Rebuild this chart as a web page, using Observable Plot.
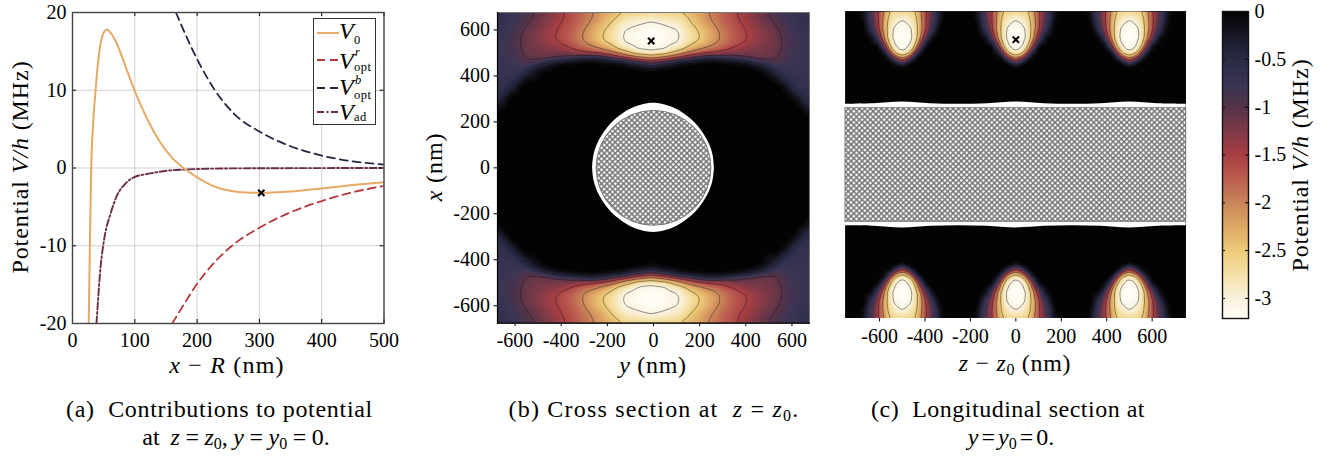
<!DOCTYPE html>
<html><head><meta charset="utf-8">
<script src="https://cdn.jsdelivr.net/npm/d3@7"></script>
<script src="https://cdn.jsdelivr.net/npm/@observablehq/plot@0.6"></script>
<style>
html,body{margin:0;padding:0;background:#fff}
#fig{position:relative;width:1335px;height:457px;overflow:hidden;font-family:"Liberation Serif",serif;color:#000}
.t{position:absolute;white-space:nowrap;font-size:24px;line-height:22px;letter-spacing:.7px}
.c{transform:translateX(-50%)}
.r{transform:translate(-50%,-50%) rotate(-90deg);letter-spacing:.9px}
i{font-style:italic}
sub{font-size:16px;line-height:0;vertical-align:-4px}
#leg{position:absolute;left:313px;top:18px;width:63px;height:107px;background:#fff;border:1px solid #333;box-sizing:border-box}
#leg svg{position:absolute;left:3px;width:22px;height:6px;overflow:visible}
#leg .e{position:absolute;left:25px;font-size:24px;line-height:20px;white-space:nowrap}
#leg .s{position:absolute;font-size:12.5px;line-height:12px;letter-spacing:.5px;white-space:nowrap}
</style></head><body>
<svg width="0" height="0" style="position:absolute"><defs>
<pattern id="hatch" patternUnits="userSpaceOnUse" width="3.9" height="3.9" patternTransform="rotate(45)">
<rect width="3.9" height="3.9" fill="#fff"/><path d="M0 0H3.9M0 0V3.9" stroke="#737373" stroke-width="3"/></pattern></defs></svg>
<div id="fig"></div>
<script>
// Panel (a): potential contributions
const v0X = [26,27.5,30,33,37,42,48,55,62,70,80,90,100,120,140,160,180,200,220,240,260,280,303,330,360,400,450,500];
const v0Y = [-20,-12,0,5.5,10,14.3,17,17.8,17.3,16.2,14.2,12,9.9,6.3,3.4,1.3,-0.1,-1.2,-2.1,-2.7,-3.02,-3.16,-3.2,-3.12,-2.95,-2.65,-2.2,-1.82];
const vrX = [160,180,200,225,253,302,350,400,446,500];
const vrY = [-20,-17.4,-14.9,-12.4,-10.2,-7.6,-5.7,-4.25,-3.2,-2.3];
const vbX = [166,200,227,259,302,350,400,446,500];
const vbY = [20,14,10.2,7,4.6,2.8,1.6,0.9,0.45];
const vaX = [38.5,45,51.4,61,71.7,85,98.5,125,152,179,259,500];
const vaY = [-20,-12.8,-8.9,-5.9,-3.5,-2,-1.2,-0.7,-0.35,-0.2,-0.05,0];
const minX = [303], minY = [-3.2];
const xTicksA = [0,100,200,300,400,500], yTicksA = [-20,-10,0,10,20];
const sectionTicks = [-600,-400,-200,0,200,400,600];
const barTicks = [0,-0.5,-1,-1.5,-2,-2.5,-3];
const contourLevels = [-3,-2.5,-2,-1.5,-1,-0.5];
const wireR = 250;

// Colour map stops from the colour bar
const cmapV = [-3.21,-3,-2.75,-2.5,-2.25,-2,-1.75,-1.5,-1.25,-1,-0.75,-0.5,-0.25,-0.05,0];
const cmapC = ["#fffdf7","#faf2dd","#f5e0a8","#edcb78","#dfa866","#c98559","#bb5e50","#a83f44","#7f3a48","#553349","#383554","#2b2b46","#191926","#08080b","#000000"];

// Panel (b): |x| rows (nm), offsets from the peak column (nm), values (MHz)
const rowsB = [676,640,600,560,530,510,495,480,470,460,450,440,425,400,380,360,340,320,300,280,260,240,200];
const colsB = [0,60,120,180,240,300,360,420,480,540,570,600,630,660,690];
const gridB = [
[-2.6,-2.53,-2.5,-2.28,-2.03,-1.78,-1.55,-1.3,-1.08,-.88,-.78,-.7,-.63,-.58,-.55],
[-3,-2.92,-2.82,-2.42,-2.1,-1.82,-1.58,-1.38,-1.15,-.95,-.85,-.75,-.68,-.62,-.58],
[-3.17,-3.08,-3,-2.62,-2.3,-1.95,-1.66,-1.46,-1.25,-1.05,-.95,-.82,-.74,-.68,-.64],
[-3.21,-3.13,-3.03,-2.68,-2.35,-2,-1.72,-1.49,-1.28,-1.12,-.98,-.85,-.78,-.72,-.68],
[-3.14,-3.07,-2.93,-2.4,-2.1,-1.85,-1.55,-1.32,-1.22,-1.1,-.98,-.85,-.79,-.73,-.7],
[-3.05,-3,-2.48,-2.05,-1.75,-1.55,-1.3,-1.2,-1.17,-1.08,-.96,-.84,-.79,-.73,-.72],
[-2.75,-2.5,-2.1,-1.6,-1.35,-1.25,-1.12,-1.14,-1.14,-1.06,-.95,-.82,-.78,-.73,-.72],
[-2.15,-1.9,-1.45,-1,-.57,-.71,-.95,-1.1,-1.12,-1.05,-.9,-.8,-.76,-.72,-.72],
[-1.65,-1.4,-.8,-.38,-.02,-.15,-.38,-.65,-1.03,-1,-.85,-.78,-.75,-.72,-.72],
[-1.2,-.85,-.18,-.02,0,0,-.03,-.3,-.75,-.92,-.82,-.76,-.75,-.72,-.72],
[-.7,-.27,-.01,0,0,0,0,-.05,-.46,-.82,-.78,-.74,-.74,-.72,-.72],
[-.25,-.02,0,0,0,0,0,0,-.25,-.72,-.75,-.72,-.73,-.71,-.71],
[-.02,0,0,0,0,0,0,0,-.03,-.52,-.7,-.68,-.7,-.7,-.7],
[0,0,0,0,0,0,0,0,0,-.24,-.55,-.62,-.67,-.67,-.68],
[0,0,0,0,0,0,0,0,0,-.02,-.35,-.55,-.63,-.65,-.66],
[0,0,0,0,0,0,0,0,0,0,-.04,-.45,-.6,-.62,-.64],
[0,0,0,0,0,0,0,0,0,0,0,-.2,-.54,-.58,-.6],
[0,0,0,0,0,0,0,0,0,0,0,0,-.38,-.55,-.58],
[0,0,0,0,0,0,0,0,0,0,0,0,-.05,-.47,-.57],
[0,0,0,0,0,0,0,0,0,0,0,0,0,-.3,-.56],
[0,0,0,0,0,0,0,0,0,0,0,0,0,-.03,-.4],
[0,0,0,0,0,0,0,0,0,0,0,0,0,0,-.2],
[0,0,0,0,0,0,0,0,0,0,0,0,0,0,0]];

// Panel (c): one lobe, |x| rows, offsets from lobe centre, values
const rowsC = [676,640,600,560,530,510,495,480,465,455,445,435,425,300,0];
const colsC = [0,15,30,45,60,75,90,105,120,135,150,165,180,250];
const gridC = [
[-2.6,-2.59,-2.58,-2.55,-2.46,-2.15,-1.83,-1.5,-1.2,-.9,-.62,-.3,-.03,0],
[-3,-2.95,-2.88,-2.75,-2.58,-2.28,-1.9,-1.5,-1.18,-.83,-.55,-.15,0,0],
[-3.17,-3.14,-3.08,-2.97,-2.65,-2.33,-1.93,-1.44,-1,-.65,-.25,0,0,0],
[-3.21,-3.18,-3.12,-3,-2.66,-2.23,-1.6,-.96,-.4,-.05,0,0,0,0],
[-3.14,-3.11,-3.05,-2.8,-2.4,-1.65,-.78,-.15,0,0,0,0,0,0],
[-3.07,-3.04,-2.85,-2.54,-1.88,-.94,-.2,0,0,0,0,0,0,0],
[-2.9,-2.75,-2.57,-2,-1.13,-.3,-.02,0,0,0,0,0,0,0],
[-2.42,-2.22,-2,-1.2,-.4,-.03,0,0,0,0,0,0,0,0],
[-1.75,-1.5,-1,-.35,-.03,0,0,0,0,0,0,0,0,0],
[-1.15,-.9,-.45,-.05,0,0,0,0,0,0,0,0,0,0],
[-.6,-.3,-.03,0,0,0,0,0,0,0,0,0,0,0],
[-.08,0,0,0,0,0,0,0,0,0,0,0,0,0],
[0,0,0,0,0,0,0,0,0,0,0,0,0,0],
[0,0,0,0,0,0,0,0,0,0,0,0,0,0],
[0,0,0,0,0,0,0,0,0,0,0,0,0,0]];
const lobeCentres = [-500,0,500];

// Clear zone round the fibre
const haloBY = [-264,-258,-240,-200,-150,-100,-50,0,50,100,150,200,240,258,264];
const haloBX = [0,55,108,172,222,255,274,281,274,255,222,172,108,55,0];
const haloCZ = [-750,-625,-500,-375,-250,-125,0,125,250,375,500,625,750];
const haloCX = [268,270,277,270,267,270,277,270,267,270,277,270,268];

const pairs = (xs, ys) => xs.map((x, i) => ({x, y: ys[i]}));
const grid4 = (rows, cols, grid, centres, peakShift = 0) => {
  const out = [];
  rows.forEach((r, i) => cols.forEach((c, j) => centres.forEach(m => {
    for (const sv of [1, -1]) for (const sh of [1, -1])
      out.push({h: m + peakShift + sh * c, v: sv * r, val: grid[i][j]});
  })));
  return out;
};
const pointsB = grid4(rowsB, colsB, gridB, [0], -10);
const pointsC = grid4(rowsC, colsC, gridC, lobeCentres);
const fine = d3.range(-3.2, 0.001, 0.05).map(d => +d.toFixed(2)).concat([-0.02]);
const colorOpt = {type: "linear", domain: cmapV, range: cmapC, clamp: true, interpolate: "rgb"};
const fmt = d => String(d);
const baseStyle = {background: "transparent", overflow: "visible", maxWidth: "none", fontFamily: "Liberation Serif", fontSize: "20px", color: "#000"};
const fig = document.getElementById("fig");
const place = (svg, left) => { svg.style.left = left + "px"; svg.style.position = "absolute"; svg.style.top = "0"; svg.style.height = svg.getAttribute("height") + "px"; fig.appendChild(svg); };

// Panel (a)
const hA = 311;
place(Plot.plot({
  width: 400, height: 360, marginLeft: 72, marginRight: 16.5, marginTop: 12, marginBottom: 37,
  style: baseStyle,
  x: {domain: [0, 500], ticks: xTicksA},
  y: {domain: [-20, 20], ticks: yTicksA},
  marks: [
    Plot.ruleX(xTicksA, {x: d => d, stroke: "#cfcfcf", strokeWidth: 1}),
    Plot.ruleY(yTicksA, {y: d => d, stroke: "#cfcfcf", strokeWidth: 1}),
    Plot.line(pairs(vaX, vaY), {x: "x", y: "y", stroke: "#6b2d47", strokeWidth: 1.9, strokeDasharray: "7 2.5 2 2.5", curve: "monotone-x", clip: true}),
    Plot.line(pairs(vrX, vrY), {x: "x", y: "y", stroke: "#b5383f", strokeWidth: 1.8, strokeDasharray: "8 5", curve: "monotone-x", clip: true}),
    Plot.line(pairs(vbX, vbY), {x: "x", y: "y", stroke: "#262642", strokeWidth: 1.8, strokeDasharray: "8 5", curve: "monotone-x", clip: true}),
    Plot.line(pairs(v0X, v0Y), {x: "x", y: "y", stroke: "#e6a865", strokeWidth: 2, curve: "monotone-x", clip: true}),
    Plot.dot(pairs(minX, minY), {x: "x", y: "y", symbol: "times", r: 3, stroke: "#000", strokeWidth: 2}),
    Plot.tickX(xTicksA, {x: d => d, insetTop: hA - 4, stroke: "#000"}),
    Plot.tickX(xTicksA, {x: d => d, insetBottom: hA - 4, stroke: "#000"}),
    Plot.tickY(yTicksA, {y: d => d, insetRight: 307.5, stroke: "#000"}),
    Plot.tickY(yTicksA, {y: d => d, insetLeft: 307.5, stroke: "#000"}),
    Plot.axisX(xTicksA, {tickSize: 0, tickPadding: 9, tickFormat: fmt, label: null}),
    Plot.axisY(yTicksA, {tickSize: 0, tickPadding: 6, tickFormat: fmt, label: null}),
    Plot.frame({stroke: "#444", strokeWidth: 1.4})
  ]
}), 0);

// Panel (b)
place(Plot.plot({
  width: 400, height: 360, marginLeft: 67, marginRight: 21, marginTop: 12, marginBottom: 37.3,
  style: baseStyle,
  color: colorOpt,
  x: {domain: [-676, 676]},
  y: {domain: [-676, 676]},
  marks: [
    Plot.contour(pointsB, {x: "h", y: "v", value: "val", interpolate: "barycentric", fill: "value", thresholds: fine, pixelSize: 1, blur: 2, clip: true}),
    Plot.contour(pointsB, {x: "h", y: "v", value: "val", interpolate: "barycentric", stroke: "#1c1c1c", fill: "none", strokeWidth: 0.8, strokeOpacity: 0.6, thresholds: contourLevels, pixelSize: 1, blur: 2, clip: true}),
    Plot.areaY(pairs(haloBY, haloBX), {x: "x", y1: d => -d.y, y2: "y", fill: "#fff", curve: "catmull-rom"}),
    Plot.dot([{x: 0, y: 0}], {x: "x", y: "y", r: wireR * 0.2296, fill: "url(#hatch)", stroke: "#777", strokeWidth: 1}),
    Plot.dot([{x: -10, y: 552}], {x: "x", y: "y", symbol: "times", r: 3, stroke: "#000", strokeWidth: 2}),
    Plot.axisX(sectionTicks, {tickSize: 3.5, tickPadding: 6, tickFormat: fmt, label: null}),
    Plot.axisY(sectionTicks, {tickSize: 3.5, tickPadding: 4, tickFormat: fmt, label: null}),
    Plot.frame({stroke: "#777", strokeWidth: 1}),
    Plot.frame({anchor: "bottom", stroke: "#000", strokeWidth: 1.2}),
    Plot.frame({anchor: "left", stroke: "#000", strokeWidth: 1.2})
  ]
}), 430);

// Panel (c)
place(Plot.plot({
  width: 370, height: 360, marginLeft: 5, marginRight: 24.3, marginTop: 11, marginBottom: 42,
  style: baseStyle,
  color: colorOpt,
  x: {domain: [-750, 750]},
  y: {domain: [-676, 676], axis: null},
  marks: [
    Plot.contour(pointsC, {x: "h", y: "v", value: "val", interpolate: "barycentric", fill: "value", thresholds: fine, pixelSize: 1, blur: 1, clip: true}),
    Plot.contour(pointsC, {x: "h", y: "v", value: "val", interpolate: "barycentric", stroke: "#1c1c1c", fill: "none", strokeWidth: 0.8, strokeOpacity: 0.6, thresholds: contourLevels.slice(0, 4), pixelSize: 1, blur: 1, clip: true}),
    Plot.areaY(pairs(haloCZ, haloCX), {x: "x", y1: d => -d.y, y2: "y", fill: "#fff", curve: "catmull-rom"}),
    Plot.rect([{x1: -750, x2: 750, y1: -wireR, y2: wireR}], {x1: "x1", x2: "x2", y1: "y1", y2: "y2", fill: "url(#hatch)", stroke: "#777", strokeWidth: 1}),
    Plot.dot([{x: 0, y: 552}], {x: "x", y: "y", symbol: "times", r: 3, stroke: "#000", strokeWidth: 2}),
    Plot.axisX(sectionTicks, {tickSize: 3.5, tickPadding: 7, tickFormat: fmt, label: null})
  ]
}), 840);

// Colour bar
place(Plot.plot({
  width: 100, height: 340, marginLeft: 0, marginRight: 74, marginTop: 11, marginBottom: 22,
  style: baseStyle,
  color: colorOpt,
  x: {domain: [0, 1], axis: null},
  y: {domain: [-3.21, 0], ticks: barTicks},
  marks: [
    Plot.raster({x1: 0, x2: 1, y1: -3.21, y2: 0, width: 1, height: 307, fill: (x, y) => y}),
    Plot.tickY(barTicks.slice(1), {y: d => d, insetRight: 23, stroke: "#000"}),
    Plot.tickY(barTicks.slice(1), {y: d => d, insetLeft: 23, stroke: "#000"}),
    Plot.axisY(barTicks, {anchor: "right", tickSize: 0, tickPadding: 6, tickFormat: fmt, label: null}),
    Plot.frame({stroke: "#111", strokeWidth: 1.4})
  ]
}), 1222);

// Text labels and legend
const labels = [
  {cls: "t c", x: 227, y: 354, st: "letter-spacing:1.2px", h: '<i>x</i> − <i>R</i> (nm)'},
  {cls: "t c", x: 653, y: 354, h: '<i>y</i> (nm)'},
  {cls: "t c", x: 1015, y: 352, h: '<i>z</i> − <i>z</i><sub>0</sub> (nm)'},
  {cls: "t r", x: 20, y: 167, h: 'Potential <i>V/h</i> (MHz)'},
  {cls: "t r", x: 434, y: 167, h: '<i>x</i> (nm)'},
  {cls: "t r", x: 1300, y: 165, h: 'Potential <i>V/h</i> (MHz)'},
  {cls: "t c", x: 219.5, y: 398, h: '(a)&nbsp; Contributions to potential'},
  {cls: "t c", x: 236, y: 426, st: "letter-spacing:0;word-spacing:-.5px", h: 'at&nbsp; <i>z</i> = <i>z</i><sub>0</sub>, <i>y</i> = <i>y</i><sub>0</sub> = 0.'},
  {cls: "t c", x: 654, y: 398, st: "letter-spacing:1.2px", h: '(b) Cross section at&nbsp; <i>z</i> = <i>z</i><sub>0</sub>.'},
  {cls: "t c", x: 1008, y: 398, st: "letter-spacing:.5px", h: '(c)&nbsp; Longitudinal section at'},
  {cls: "t c", x: 1011, y: 426, st: "letter-spacing:0;word-spacing:-3px", h: '<i>y</i> = <i>y</i><sub>0</sub> = 0.'}
];
for (const l of labels) {
  const d = document.createElement("div");
  d.className = l.cls; d.style.cssText = (l.st || "") + `;left:${l.x}px;top:${l.y}px`; d.innerHTML = l.h;
  fig.appendChild(d);
}
const legend = [
  {c: "#e6a865", dash: "", y: 14, base: 6, sup: "", sub: "0", subOff: 6.5},
  {c: "#b5383f", dash: "8 5", y: 40.5, base: 9, sup: "r", sub: "opt", subOff: 7.2},
  {c: "#262642", dash: "8 5", y: 68.5, base: 7.5, sup: "b", sub: "opt", subOff: 7.2},
  {c: "#6b2d47", dash: "7 2.5 2 2.5", y: 93, base: 8, sup: "", sub: "ad", subOff: 5}
];
const leg = document.createElement("div"); leg.id = "leg";
leg.innerHTML = legend.map(e => `<svg style="top:${e.y - 3}px"><line x1="0" x2="22" y1="3" y2="3" stroke="${e.c}" stroke-width="1.9" stroke-dasharray="${e.dash}"/></svg>`
  + `<div class="e" style="top:${e.y + e.base - 18}px"><i>V</i></div>`
  + (e.sup ? `<div class="s" style="left:41px;top:${e.y - 13.2}px"><i>${e.sup}</i></div>` : "")
  + `<div class="s" style="left:40px;top:${e.y + e.subOff - 6}px">${e.sub}</div>`).join("");
fig.appendChild(leg);
</script>
</body></html>
